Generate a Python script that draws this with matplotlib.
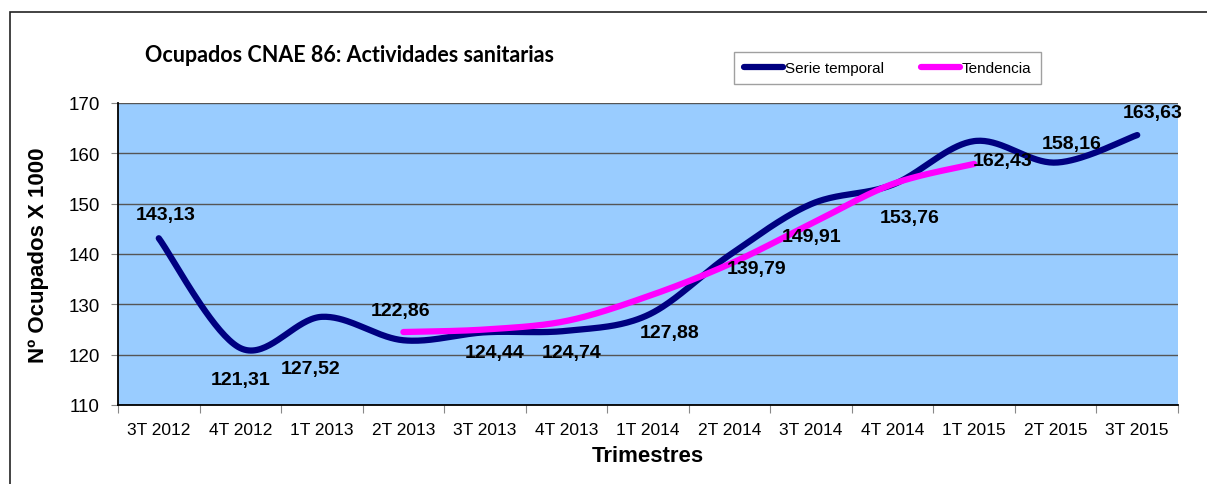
import numpy as np
import matplotlib.pyplot as plt
from matplotlib.patches import Rectangle
from matplotlib.lines import Line2D

plt.rcParams['font.family'] = ['Liberation Sans', 'DejaVu Sans']

quarters = ['3T 2012', '4T 2012', '1T 2013', '2T 2013', '3T 2013', '4T 2013', '1T 2014',
            '2T 2014', '3T 2014', '4T 2014', '1T 2015', '2T 2015', '3T 2015']
serie = [143.13, 121.31, 127.52, 122.86, 124.44, 124.74, 127.88,
         139.79, 149.91, 153.76, 162.43, 158.16, 163.63]
# tendencia solo de 2T 2013 a 1T 2015
trend_start = 3
tendencia = [124.5, 125.0, 126.7, 131.6, 138.0, 146.0, 153.9, 157.9]

# desplazamiento de las etiquetas (pixeles) respecto del punto
label_off = [(7, 24), (0, -31), (-11, -52), (-3, 30), (10, -20), (5, -22), (22, -17),
             (27, -13), (0, -32), (17, -33), (28, -19), (16, 19), (15, 23)]


def smooth(xs, ys, n=40):
    # curva suavizada tipo Excel (bezier con puntos de control catmull-rom)
    P = np.column_stack([xs, ys]).astype(float)
    P = np.vstack([P[0], P, P[-1]])
    out = []
    for i in range(1, len(P) - 2):
        p0, p1, p2, p3 = P[i - 1], P[i], P[i + 1], P[i + 2]
        c1 = p1 + (p2 - p0) / 6
        c2 = p2 - (p3 - p1) / 6
        t = np.linspace(0, 1, n)[:, None]
        seg = (1 - t) ** 3 * p1 + 3 * (1 - t) ** 2 * t * c1 + 3 * (1 - t) * t ** 2 * c2 + t ** 3 * p2
        out.append(seg if i == 1 else seg[1:])
    seg = np.vstack(out)
    return seg[:, 0], seg[:, 1]


fig = plt.figure(figsize=(12.07, 4.85), dpi=100)
W, H = 1207, 485
ax = fig.add_axes([118 / W, 1 - 406 / H, (1178 - 118) / W, (406 - 104) / H])

# marco exterior
fig.patches.append(Rectangle((10 / W, -0.1), 1.2, 1 - 13 / H + 0.1, transform=fig.transFigure,
                             fill=False, edgecolor='#222222', linewidth=1.2))

x = np.arange(len(quarters))
ax.set_facecolor('#99CCFF')
ax.set_xlim(-0.5, len(quarters) - 0.5)
ax.set_ylim(110, 170)
ax.set_yticks(np.arange(110, 171, 10))
ax.yaxis.grid(True, color='#555555', linewidth=1)
ax.set_axisbelow(True)

ax.set_xticks(np.arange(-0.5, len(quarters), 1))
ax.set_xticklabels([])
ax.set_xticks(x, minor=True)
ax.set_xticklabels(quarters, minor=True)
ax.tick_params(axis='x', which='minor', length=0, labelsize=12.5, pad=12)
ax.tick_params(axis='x', which='major', length=6, color='#888888')
ax.tick_params(axis='y', length=5, labelsize=13.5, color='#888888', pad=8)

for s in ['top', 'right']:
    ax.spines[s].set_visible(False)
ax.spines['left'].set_linewidth(1.3)
ax.spines['bottom'].set_linewidth(1.3)

sx, sy = smooth(x, serie)
ax.plot(sx, sy, color='#000080', linewidth=4.5, solid_capstyle='round', zorder=3)
tx, ty = smooth(x[trend_start:trend_start + len(tendencia)], tendencia)
ax.plot(tx, ty, color='#FF00FF', linewidth=4.5, solid_capstyle='round', zorder=4)

for xi, v, off in zip(x, serie, label_off):
    ax.annotate(f'{v:.2f}'.replace('.', ','), (xi, v), xytext=off, textcoords='offset pixels',
                ha='center', va='center', fontsize=14, fontweight='bold', zorder=5)

ax.set_xlabel('Trimestres', fontsize=16, fontweight='bold', labelpad=6)
ax.set_ylabel('Nº Ocupados X 1000', fontsize=16, fontweight='bold', labelpad=14)

fig.text(145 / W, 1 - 55 / H, 'Ocupados CNAE 86: Actividades sanitarias', fontsize=15.5,
         fontweight='bold', family=['Lato', 'DejaVu Sans'], va='center', ha='left')

handles = [Line2D([], [], color='#000080', linewidth=4.5, solid_capstyle='round'),
           Line2D([], [], color='#FF00FF', linewidth=4.5, solid_capstyle='round')]
leg = fig.legend(handles, ['Serie temporal', 'Tendencia'], loc='center',
                 bbox_to_anchor=((730 + 1045) / 2 / W, 1 - 69 / H), ncol=2, fontsize=11,
                 frameon=True, fancybox=False, edgecolor='#888888', handlelength=2.6,
                 handletextpad=0.1, columnspacing=2.4, borderpad=0.6)
leg.get_frame().set_linewidth(1)

fig.savefig('out.png', dpi=100)
